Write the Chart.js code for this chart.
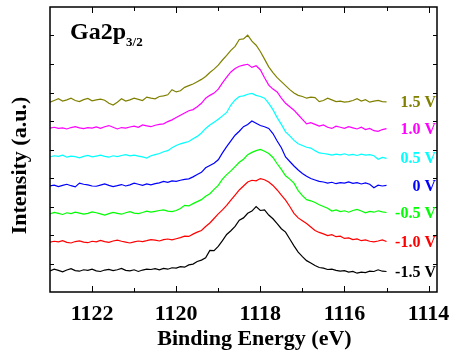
<!DOCTYPE html>
<html>
<head>
<meta charset="utf-8">
<script src="https://cdn.jsdelivr.net/npm/chart.js@4/dist/chart.umd.min.js"></script>
<style>
  html, body { margin: 0; padding: 0; background: #fff; }
  #wrap { width: 454px; height: 354px; }
</style>
</head>
<body>
<div id="wrap"><canvas id="chart"></canvas></div>
<script>
// Binding energy grid (eV), 0.1 eV step
const energies = [
  1123.0, 1122.9, 1122.8, 1122.7, 1122.6, 1122.5, 1122.4, 1122.3, 1122.2, 1122.1,
  1122.0, 1121.9, 1121.8, 1121.7, 1121.6, 1121.5, 1121.4, 1121.3, 1121.2, 1121.1,
  1121.0, 1120.9, 1120.8, 1120.7, 1120.6, 1120.5, 1120.4, 1120.3, 1120.2, 1120.1,
  1120.0, 1119.9, 1119.8, 1119.7, 1119.6, 1119.5, 1119.4, 1119.3, 1119.2, 1119.1,
  1119.0, 1118.9, 1118.8, 1118.7, 1118.6, 1118.5, 1118.4, 1118.3, 1118.2, 1118.1,
  1118.0, 1117.9, 1117.8, 1117.7, 1117.6, 1117.5, 1117.4, 1117.3, 1117.2, 1117.1,
  1117.0, 1116.9, 1116.8, 1116.7, 1116.6, 1116.5, 1116.4, 1116.3, 1116.2, 1116.1,
  1116.0, 1115.9, 1115.8, 1115.7, 1115.6, 1115.5, 1115.4, 1115.3, 1115.2, 1115.1,
  1115.0
];

// stacked intensities (a.u.), one per bias
const biasM15 = [
  0.74, 0.80, 0.76, 0.71, 0.77, 0.82, 0.75, 0.73, 0.78, 0.76,
  0.80, 0.74, 0.72, 0.77, 0.79, 0.75, 0.78, 0.83, 0.76, 0.74,
  0.78, 0.72, 0.77, 0.80, 0.79, 0.82, 0.78, 0.83, 0.80, 0.85,
  0.84, 0.89, 0.87, 0.95, 0.98, 1.07, 1.12, 1.20, 1.46, 1.45,
  1.60, 1.80, 2.02, 2.15, 2.30, 2.52, 2.60, 2.76, 2.84, 3.00,
  2.86, 2.88, 2.70, 2.57, 2.40, 2.22, 2.10, 1.86, 1.62, 1.40,
  1.24, 1.10, 1.02, 0.93, 0.86, 0.84, 0.79, 0.80, 0.76, 0.73,
  0.75, 0.70, 0.72, 0.66, 0.70, 0.68, 0.73, 0.72, 0.78, 0.73,
  0.72
];
const biasM10 = [
  1.75, 1.78, 1.76, 1.80, 1.74, 1.72, 1.77, 1.79, 1.75, 1.73,
  1.78, 1.76, 1.81, 1.77, 1.74, 1.79, 1.82, 1.78, 1.75, 1.72,
  1.76, 1.79, 1.77, 1.80, 1.84, 1.82, 1.79, 1.84, 1.86, 1.83,
  1.87, 1.91, 1.96, 1.95, 2.03, 2.10, 2.16, 2.30, 2.42, 2.58,
  2.74, 2.88, 3.04, 3.22, 3.40, 3.58, 3.72, 3.86, 3.92, 3.90,
  3.98, 3.94, 3.86, 3.74, 3.58, 3.40, 3.22, 3.00, 2.76, 2.60,
  2.50, 2.40, 2.28, 2.16, 2.09, 2.04, 1.98, 2.01, 1.94, 1.96,
  1.88, 1.90, 1.84, 1.86, 1.80, 1.83, 1.78, 1.76, 1.79, 1.83,
  1.77
];
const biasM05 = [
  2.74, 2.79, 2.76, 2.72, 2.78, 2.75, 2.80, 2.77, 2.73, 2.76,
  2.81, 2.78, 2.74, 2.70, 2.75, 2.79, 2.76, 2.73, 2.78, 2.82,
  2.77, 2.75, 2.79, 2.84, 2.80, 2.83, 2.86, 2.88, 2.84, 2.82,
  2.86, 2.93, 3.04, 3.02, 3.10, 3.17, 3.24, 3.36, 3.45, 3.60,
  3.74, 3.96, 4.12, 4.25, 4.40, 4.55, 4.66, 4.82, 4.90, 4.96,
  5.00, 4.94, 4.86, 4.72, 4.50, 4.30, 4.08, 3.96, 3.82, 3.56,
  3.38, 3.24, 3.20, 3.14, 3.06, 3.00, 2.94, 2.84, 2.88, 2.82,
  2.85, 2.80, 2.86, 2.90, 2.84, 2.78, 2.83, 2.80, 2.85, 2.81,
  2.79
];
const bias00 = [
  3.72, 3.75, 3.70, 3.74, 3.78, 3.73, 3.69, 3.82, 3.78, 3.76,
  3.72, 3.71, 3.75, 3.79, 3.74, 3.70, 3.73, 3.77, 3.72, 3.76,
  3.82, 3.78, 3.74, 3.79, 3.76, 3.80, 3.83, 3.88, 3.85, 3.90,
  3.88, 3.92, 3.95, 3.97, 4.04, 4.12, 4.20, 4.36, 4.44, 4.52,
  4.64, 4.88, 5.10, 5.30, 5.50, 5.64, 5.80, 5.88, 6.00, 5.92,
  5.84, 5.80, 5.74, 5.56, 5.30, 5.06, 4.74, 4.58, 4.42, 4.28,
  4.16, 4.06, 3.98, 3.93, 3.88, 3.86, 3.82, 3.85, 3.80, 3.84,
  3.82, 3.86, 3.81, 3.84, 3.79, 3.83, 3.78, 3.66, 3.75, 3.72,
  3.74
];
const biasP05 = [
  4.74, 4.78, 4.76, 4.80, 4.73, 4.77, 4.75, 4.71, 4.76, 4.79,
  4.74, 4.77, 4.80, 4.76, 4.73, 4.78, 4.75, 4.79, 4.82, 4.78,
  4.80, 4.77, 4.74, 4.70, 4.78, 4.82, 4.86, 4.92, 4.96, 5.06,
  5.14, 5.20, 5.24, 5.28, 5.38, 5.46, 5.58, 5.74, 5.86, 5.96,
  6.06, 6.18, 6.30, 6.56, 6.74, 6.86, 6.88, 6.94, 6.97, 6.90,
  6.86, 6.80, 6.62, 6.40, 6.12, 5.88, 5.62, 5.48, 5.32, 5.20,
  5.14, 5.08, 5.05, 4.96, 4.88, 4.86, 4.84, 4.80, 4.84, 4.81,
  4.85, 4.80, 4.83, 4.79, 4.84, 4.80, 4.82, 4.78, 4.66, 4.72,
  4.69
];
const biasP10 = [
  5.75, 5.78, 5.74, 5.76, 5.72, 5.77, 5.80, 5.76, 5.73, 5.77,
  5.75, 5.79, 5.74, 5.80, 5.84, 5.78, 5.72, 5.77, 5.75, 5.79,
  5.82, 5.78, 5.86, 5.83, 5.80, 5.85, 5.88, 5.90, 5.98, 6.04,
  6.12, 6.20, 6.28, 6.36, 6.40, 6.50, 6.62, 6.80, 6.90, 6.98,
  7.12, 7.34, 7.54, 7.72, 7.84, 7.92, 7.96, 7.99, 7.88, 7.94,
  7.80, 7.52, 7.26, 7.12, 7.02, 6.80, 6.62, 6.50, 6.38, 6.22,
  6.06, 5.90, 5.94, 5.88, 5.82, 5.86, 5.78, 5.74, 5.82, 5.78,
  5.74, 5.80, 5.76, 5.72, 5.78, 5.70, 5.74, 5.66, 5.64, 5.70,
  5.73
];
const biasP15 = [
  6.66, 6.72, 6.78, 6.70, 6.74, 6.80, 6.72, 6.68, 6.75, 6.79,
  6.71, 6.74, 6.77, 6.73, 6.62, 6.56, 6.66, 6.78, 6.70, 6.74,
  6.80, 6.76, 6.72, 6.84, 6.80, 6.78, 6.86, 6.88, 6.92, 7.10,
  7.02, 7.06, 7.18, 7.24, 7.30, 7.38, 7.46, 7.56, 7.70, 7.82,
  7.96, 8.14, 8.30, 8.48, 8.62, 8.86, 8.88, 9.01, 8.80, 8.66,
  8.44, 8.17, 7.90, 7.70, 7.52, 7.38, 7.24, 7.10, 6.98, 6.90,
  6.86, 6.80, 6.84, 6.82, 6.68, 6.72, 6.80, 6.74, 6.68, 6.70,
  6.66, 6.68, 6.72, 6.78, 6.70, 6.75, 6.66, 6.70, 6.72, 6.68,
  6.67
];

const seriesLabels = ['1.5 V', '1.0 V', '0.5 V', '0 V', '-0.5 V', '-1.0 V', '-1.5 V'];
const seriesValues = [biasP15, biasP10, biasP05, bias00, biasM05, biasM10, biasM15];
const seriesColors = ['#808000', '#ff00ff', '#00ffff', '#0000ff', '#00ff00', '#ff0000', '#000000'];

const xTicks = [1122, 1120, 1118, 1116, 1114];
const xMinorTicks = [1121, 1119, 1117, 1115];
const yTicks = [1, 2, 3, 4, 5, 6, 7, 8, 9];

const FONT = '"Liberation Serif", "Times New Roman", serif';

// frame, inward ticks, curve labels and titles
const decor = {
  id: 'decor',
  afterDraw(chart) {
    const { ctx, chartArea: a, scales: { x, y } } = chart;
    ctx.save();
    ctx.strokeStyle = '#000';
    ctx.lineWidth = 1;
    ctx.beginPath();
    const tickX = (v, len) => {
      const px = Math.round(x.getPixelForValue(v)) + 0.5;
      ctx.moveTo(px, a.bottom); ctx.lineTo(px, a.bottom - len);
      ctx.moveTo(px, a.top); ctx.lineTo(px, a.top + len);
    };
    xTicks.forEach(v => tickX(v, 6));
    xMinorTicks.forEach(v => tickX(v, 4));
    yTicks.forEach(v => {
      const py = Math.round(y.getPixelForValue(v)) + 0.5;
      ctx.moveTo(a.left, py); ctx.lineTo(a.left + 4, py);
      ctx.moveTo(a.right, py); ctx.lineTo(a.right - 4, py);
    });
    ctx.stroke();

    ctx.lineWidth = 1.5;
    ctx.strokeRect(a.left, a.top, a.right - a.left, a.bottom - a.top);

    // bias labels at the right end of each curve
    ctx.font = 'bold 16px ' + FONT;
    ctx.textAlign = 'right';
    ctx.textBaseline = 'middle';
    seriesLabels.forEach((t, i) => {
      const vals = seriesValues[i];
      ctx.fillStyle = seriesColors[i];
      ctx.fillText(t, a.right - 1, y.getPixelForValue(vals[vals.length - 1]) + 1);
    });

    // Ga2p3/2
    ctx.fillStyle = '#000';
    ctx.textAlign = 'left';
    ctx.textBaseline = 'alphabetic';
    ctx.font = 'bold 24px ' + FONT;
    ctx.fillText('Ga2p', 70, 39);
    const w = ctx.measureText('Ga2p').width;
    ctx.font = 'bold 13px ' + FONT;
    ctx.fillText('3/2', 70 + w, 46);

    // axis titles
    ctx.font = 'bold 22px ' + FONT;
    ctx.textAlign = 'center';
    ctx.fillText('Binding Energy (eV)', (a.left + a.right) / 2 + 11, 345);
    ctx.translate(26, (a.top + a.bottom) / 2 + 16);
    ctx.rotate(-Math.PI / 2);
    ctx.fillText('Intensity (a.u.)', 0, 0);
    ctx.restore();
  }
};

new Chart(document.getElementById('chart'), {
  type: 'line',
  data: {
    datasets: seriesLabels.map((label, i) => ({
      label,
      data: energies.map((e, j) => ({ x: e, y: seriesValues[i][j] })),
      borderColor: seriesColors[i],
      borderWidth: 1.2,
      pointRadius: 0,
      tension: 0,
      fill: false
    }))
  },
  options: {
    responsive: true,
    maintainAspectRatio: false,
    animation: false,
    layout: { padding: { left: 50, right: 17, top: 7, bottom: 0 } },
    plugins: { legend: { display: false }, tooltip: { enabled: false } },
    scales: {
      x: {
        type: 'linear',
        reverse: true,
        min: 1113.8,
        max: 1123.0,
        grid: { display: false, drawTicks: false },
        border: { display: false },
        afterBuildTicks: s => { s.ticks = xTicks.map(v => ({ value: v })); },
        afterFit: s => { s.height = 62; s.paddingLeft = 0; s.paddingRight = 0; },
        ticks: {
          padding: 9,
          color: '#000',
          maxRotation: 0,
          font: { family: FONT, size: 22, weight: 'bold' },
          callback: v => String(v)
        }
      },
      y: {
        display: false,
        min: 0,
        max: 10
      }
    }
  },
  plugins: [decor]
});
</script>
</body>
</html>
